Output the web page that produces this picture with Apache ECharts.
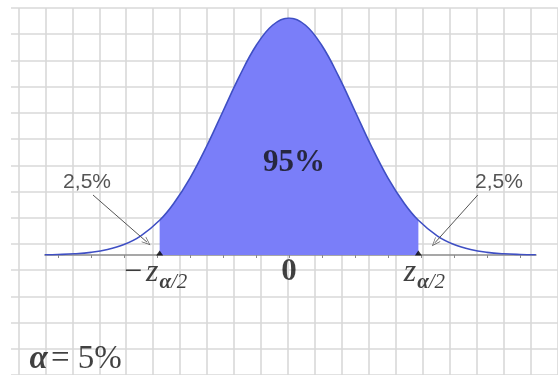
<!DOCTYPE html>
<html>
<head>
<meta charset="utf-8">
<title>Normal distribution, two-sided 95% interval</title>
<script src="https://cdn.jsdelivr.net/npm/echarts@6/dist/echarts.min.js"></script>
<style>
  html, body { margin: 0; padding: 0; background: #ffffff; }
  #chart { width: 558px; height: 375px; }
</style>
</head>
<body>
<div id="chart"></div>
<script>
// Standard normal density, sampled along z
const curveX = [-3.7, -3.5, -3.25, -3, -2.75, -2.5, -2.25, -1.96, -1.75, -1.5, -1.25, -1, -0.75, -0.5, -0.25, 0,
                0.25, 0.5, 0.75, 1, 1.25, 1.5, 1.75, 1.96, 2.25, 2.5, 2.75, 3, 3.25, 3.5, 3.74];
const curveY = [0.0004, 0.0009, 0.0020, 0.0044, 0.0091, 0.0175, 0.0317, 0.0584, 0.0863, 0.1295, 0.1826, 0.2420, 0.3011, 0.3521, 0.3867, 0.3989,
                0.3867, 0.3521, 0.3011, 0.2420, 0.1826, 0.1295, 0.0863, 0.0584, 0.0317, 0.0175, 0.0091, 0.0044, 0.0020, 0.0009, 0.0004];

// Critical value for alpha = 5%
const zCrit = 1.96;
const tailShare = '2,5%';
const centerShare = '95%';
const alphaText = '5%';
const axisTicks = [-3.5, -3, -2.5, -2, -1.5, -1, -0.5, 0, 0.5, 1, 1.5, 2, 2.5, 3, 3.5];

const curve = curveX.map((x, i) => [x, curveY[i]]);
const middle = curve.filter(p => p[0] >= -zCrit && p[0] <= zCrit);

const serif = '"Liberation Serif", "DejaVu Serif", serif';
const sans = '"Liberation Sans", Arial, sans-serif';
const paper = '#d9d9d9';

const zRich = {
  m: { fontFamily: serif, fontSize: 32, lineHeight: 32, verticalAlign: 'top', color: '#111', padding: [0, 4, 0, 0] },
  z: { fontFamily: serif, fontStyle: 'italic', fontSize: 32, lineHeight: 32, verticalAlign: 'top', color: '#111' },
  a: { fontFamily: serif, fontStyle: 'italic', fontWeight: 'bold', fontSize: 21, lineHeight: 21, verticalAlign: 'top', color: '#111', padding: [15, 0, 0, 1] },
  t: { fontFamily: serif, fontStyle: 'italic', fontSize: 21, lineHeight: 21, verticalAlign: 'top', color: '#111', padding: [15, 0, 0, 0] }
};

const chart = echarts.init(document.getElementById('chart'), null, { renderer: 'canvas' });

chart.setOption({
  animation: false,
  backgroundColor: '#ffffff',
  grid: [
    // plotting area of the density
    { left: 45, width: 491, top: 18, height: 237 },
    // graph-paper columns
    { left: 18.3, width: 541.4, top: 8, bottom: 0 },
    // graph-paper rows
    { left: 11, right: 0, top: 8, height: 379 }
  ],
  xAxis: [
    {
      type: 'value', gridIndex: 0, min: -3.697, max: 3.742,
      axisLine: { show: true, lineStyle: { color: '#8a8a8a', width: 1.5 } },
      axisTick: { show: true, customValues: axisTicks, length: 3, lineStyle: { color: '#8a8a8a' } },
      axisLabel: { show: false },
      splitLine: { show: false }
    },
    {
      type: 'value', gridIndex: 1, min: 0, max: 20, interval: 1,
      axisLine: { show: false }, axisTick: { show: false }, axisLabel: { show: false },
      splitLine: { show: true, lineStyle: { color: paper, width: 1.6 } }
    },
    {
      type: 'value', gridIndex: 2, min: 0, max: 1,
      show: false, splitLine: { show: false }
    }
  ],
  yAxis: [
    { type: 'value', gridIndex: 0, min: 0, max: 0.3989, show: false, splitLine: { show: false } },
    { type: 'value', gridIndex: 1, min: 0, max: 1, show: false, splitLine: { show: false } },
    {
      type: 'value', gridIndex: 2, min: 0, max: 14, interval: 1,
      axisLine: { show: false }, axisTick: { show: false }, axisLabel: { show: false },
      splitLine: { show: true, lineStyle: { color: paper, width: 1.6 } }
    }
  ],
  series: [
    {
      // shaded central 95% region
      type: 'line', xAxisIndex: 0, yAxisIndex: 0,
      data: middle, smooth: 0.4, symbol: 'none',
      lineStyle: { width: 0 },
      areaStyle: { color: '#7a7ef9', opacity: 1 },
      z: 3, silent: true
    },
    {
      // density outline with the tail arrows
      type: 'line', xAxisIndex: 0, yAxisIndex: 0,
      data: curve, smooth: 0.4, symbol: 'none',
      lineStyle: { color: '#3f4fc4', width: 1.6 },
      z: 4, silent: true,
      markLine: {
        silent: true, animation: false,
        symbol: ['none', 'path://M5,0 L10,10 L9,10 L5,2 L1,10 L0,10 Z'],
        symbolSize: [7, 9],
        label: { show: false },
        lineStyle: { color: '#555555', width: 1, type: 'solid' },
        data: [
          [{ coord: [-2.97, 0.101] }, { coord: [-2.15, 0.0215] }],
          [{ coord: [2.86, 0.101] }, { coord: [2.21, 0.0205] }]
        ]
      }
    },
    {
      // critical-value markers on the axis
      type: 'scatter', xAxisIndex: 0, yAxisIndex: 0,
      data: [[-zCrit, 0], [zCrit, 0]],
      symbol: 'triangle', symbolSize: [7, 5], symbolOffset: [0, -2],
      itemStyle: { color: '#000' }, z: 6, silent: true
    },
    {
      // annotations placed in data coordinates
      type: 'scatter', xAxisIndex: 0, yAxisIndex: 0,
      symbolSize: 0, silent: true, z: 7, clip: false,
      label: { show: true, position: 'inside' },
      data: [
        { value: [-3.06, 0.1229], label: { formatter: tailShare, fontFamily: sans, fontSize: 21, color: '#2a2a2a' } },
        { value: [3.18, 0.1229], label: { formatter: tailShare, fontFamily: sans, fontSize: 21, color: '#2a2a2a' } },
        { value: [0.076, 0.1549], label: { formatter: centerShare, fontFamily: serif, fontWeight: 'bold', fontSize: 31, color: '#111' } },
        { value: [0, 0], label: { position: 'bottom', distance: 1, formatter: '0', fontFamily: serif, fontWeight: 'bold', fontSize: 31, color: '#111' } },
        { value: [-zCrit, 0], label: { position: 'bottom', distance: 2, offset: [-4, 0], formatter: '{m|−}{z|z}{a|α}{t|/2}', rich: zRich } },
        { value: [zCrit, 0], label: { position: 'bottom', distance: 2, offset: [6, 0], formatter: '{z|z}{a|α}{t|/2}', rich: zRich } },
        // significance level, bottom left
        { value: [-3.795, -0.175], label: { formatter: 'α', fontFamily: serif, fontStyle: 'italic', fontWeight: 'bold', fontSize: 33, color: '#111' } },
        { value: [-3.07, -0.175], label: { formatter: '= ' + alphaText, fontFamily: serif, fontWeight: 'normal', fontSize: 33, color: '#111' } }
      ]
    }
  ]
});
</script>
</body>
</html>
